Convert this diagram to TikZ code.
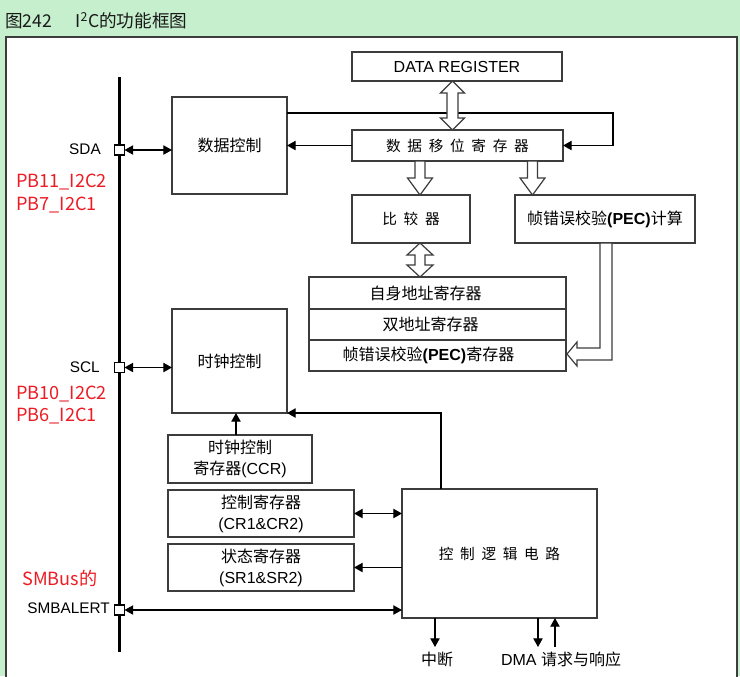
\documentclass[tikz,border=0pt]{standalone}
\usepackage{fontspec}
\setmainfont{Liberation Sans}
\newfontfamily\cjk{Noto Sans CJK SC}
\usetikzlibrary{arrows.meta,calc}
\definecolor{pagegreen}{RGB}{198,239,206}
\definecolor{boxline}{RGB}{60,60,60}
\definecolor{tagred}{RGB}{237,28,36}
\newcommand\zh[1]{{\cjk #1}}
\newcommand\cgap{\hspace{5pt}}
\newcommand\smallzh{\fontsize{11}{13}\selectfont}

\begin{document}
\begin{tikzpicture}[x=0.75pt,y=-0.75pt,
  sz/.style 2 args={minimum width=#1*0.75pt,minimum height=#2*0.75pt},
  box/.style={draw=boxline,line width=1.1pt,fill=white,inner sep=0pt,outer sep=0pt,
              font=\fontsize{12}{15.75}\selectfont},
  txt/.style={inner sep=0pt,font=\fontsize{12}{15.75}\selectfont},
  arr/.style={draw=black,line width=0.9pt,-{Triangle[length=6.5pt,width=7pt]}},
  dbl/.style={draw=black,line width=0.9pt,{Triangle[length=6.5pt,width=7pt]}-{Triangle[length=6.5pt,width=7pt]}},
  hollow/.style={draw=boxline,line width=0.9pt,fill=white,line join=miter},
  pin/.style={draw=black,line width=0.8pt,fill=white,minimum size=7.5pt,inner sep=0pt,outer sep=0pt},
  sig/.style={inner sep=0pt,anchor=base east,font=\fontsize{11.5}{14}\selectfont},
  tag/.style={inner sep=0pt,anchor=base west,text=tagred,font=\cjk\fontsize{13.6}{16}\selectfont},
]
\useasboundingbox (0,0) rectangle (740,676);
\fill[pagegreen] (0,0) rectangle (740,676);
\filldraw[fill=white,draw=boxline,line width=1pt] (6,37) rectangle (737,700);

% caption
\node[anchor=base west,inner sep=0pt,text=black!90,font=\cjk\fontsize{13.2}{15}\selectfont]
  (title) at (5,27) {图242\hspace{17.5pt}I\textsuperscript{2}C的功能框图};

% pin bus
\coordinate (busTop) at (119.5,77);
\coordinate (busBot) at (119.5,652);
\draw[line width=2.3pt] (busTop) -- (busBot);

% functional blocks
\node[box,sz={115}{97}]  (dc)   at (229.5,145.5) {\zh{数据控制}};
\node[box,sz={210}{29}]  (dr)   at (457,66.5)    {DATA REGISTER};
\node[box,sz={211}{31}]  (sr)   at (457.5,145.5) {\zh{\smallzh 数\cgap 据\cgap 移\cgap 位\cgap 寄\cgap 存\cgap 器}};
\node[box,sz={118}{48}]  (cmp)  at (411,219)     {\zh{\smallzh 比\cgap 较\cgap 器}};
\node[box,sz={180}{48}]  (pecc) at (605,219)     {\zh{帧错误校验}\textbf{(PEC)}\zh{计算}};
\node[box,sz={257}{32}]  (own)  at (437.5,293)   {};
\node[box,sz={257}{31}]  (dual) at (437.5,324.5) {};
\node[box,sz={257}{31}]  (pecr) at (437.5,355.5) {};
\node[txt] (ownT)  at ($(own.center)+(-12,0)$)  {\zh{自身地址寄存器}};
\node[txt] (dualT) at ($(dual.center)+(-7,0)$)  {\zh{双地址寄存器}};
\node[txt] (pecrT) at ($(pecr.center)+(-9,0)$)  {\zh{帧错误校验}\textbf{(PEC)}\zh{寄存器}};
\node[box,sz={115}{104}] (cc)   at (229.5,361)   {\zh{时钟控制}};
\node[box,sz={144}{48},align=center]  (ccr) at (240,459)   {\zh{时钟控制}\\\zh{寄存器}(CCR)};
\node[box,sz={186}{47},align=center]  (cr)  at (261,513.5) {\zh{控制寄存器}\\(CR1\&CR2)};
\node[box,sz={186}{47},align=center]  (srg) at (261,567.5) {\zh{状态寄存器}\\(SR1\&SR2)};
\node[box,sz={195}{129}] (logic) at (499.5,553.5) {\zh{\smallzh 控\cgap 制\cgap 逻\cgap 辑\cgap 电\cgap 路}};

% pins and their names
\node[pin] (sda) at (119.5,150) {};
\node[pin] (scl) at (119.5,367.5) {};
\node[pin] (smb) at (119.5,610) {};
\node[sig] (sdaL) at (101,154) {SDA};
\node[sig] (sclL) at (100,372) {SCL};
\node[sig] (smbL) at (110,613) {SMBALERT};
\node[tag] (sdaA) at (16,187) {PB11\_I2C2};
\node[tag] (sdaB) at (16,210) {PB7\_I2C1};
\node[tag] (sclA) at (16,399) {PB10\_I2C2};
\node[tag] (sclB) at (16,421) {PB6\_I2C1};
\node[tag] (smbT) at (22,585) {SMBus的};

% outputs of the control logic
\node[txt,anchor=base] (intr) at (437,665) {\zh{中断}};
\node[txt,anchor=base] (dma)  at (561,665) {DMA \zh{请求与响应}};

% signal connectors
\draw[dbl] (sda.east) -- (sda.east -| dc.west);
\draw[dbl] (scl.east) -- (scl.east -| cc.west);
\draw[dbl] (smb.east) -- (smb.east -| logic.west);
\draw[arr] (sr.west) -- (sr.west -| dc.east);
\coordinate (loopC) at (613,113);
\draw[arr] (dc.east |- loopC) -- (loopC) |- (sr.east);
\coordinate (ccrTap) at ($(ccr.north west)+(68,0)$);
\draw[arr] (ccrTap) -- (ccrTap |- cc.south);
\coordinate (lgTap) at ($(logic.north west)+(39,0)$);
\draw[arr] (lgTap) |- (cc.south east);
\draw[dbl] (cr.east) -- (cr.east -| logic.west);
\draw[arr] (srg.east -| logic.west) -- (srg.east);
\coordinate (intTap) at ($(logic.south west)+(33,0)$);
\coordinate (dmaReq) at ($(logic.south west)+(136,0)$);
\coordinate (dmaAck) at ($(logic.south west)+(153,29)$);
\draw[arr] (intTap) -- ++(0,29);
\draw[arr] (dmaReq) -- ++(0,29);
\draw[arr] (dmaAck) -- (dmaAck |- logic.south);

% wide data-path arrows
\filldraw[hollow] (452.5,81) -- (464.5,93) -- (458,93) -- (458,118) -- (464.5,118)
  -- (452.5,130) -- (440.5,118) -- (447,118) -- (447,93) -- (440.5,93) -- cycle;
\filldraw[hollow] (415,161) -- (415,178) -- (407.5,178) -- (420,195) -- (432.5,178)
  -- (425,178) -- (425,161) -- cycle;
\filldraw[hollow] (527.5,161) -- (527.5,178) -- (520,178) -- (532.5,195) -- (545,178)
  -- (537.5,178) -- (537.5,161) -- cycle;
\filldraw[hollow] (420,243) -- (433,255) -- (425,255) -- (425,265) -- (433,265)
  -- (420,277) -- (407,265) -- (415,265) -- (415,255) -- (407,255) -- cycle;
\filldraw[hollow] (600,243) -- (600,348) -- (577,348) -- (577,342) -- (567,354)
  -- (577,366) -- (577,360) -- (612,360) -- (612,243) -- cycle;
\end{tikzpicture}
\end{document}
